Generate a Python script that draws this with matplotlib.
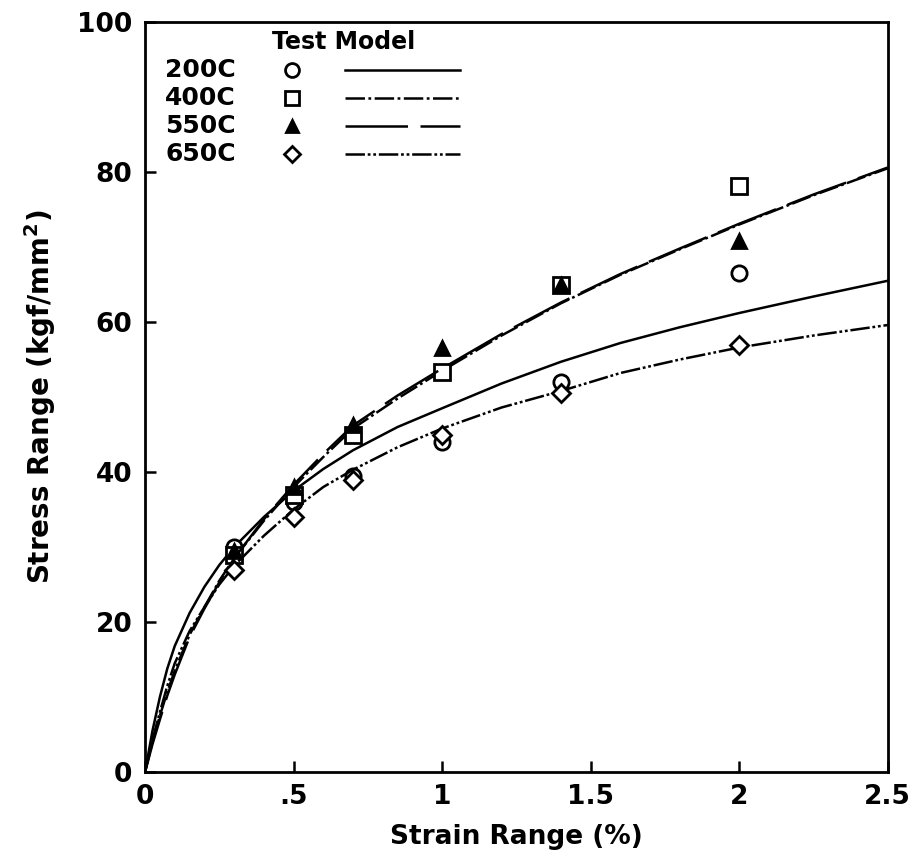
import matplotlib
matplotlib.use("Agg")
import matplotlib.pyplot as plt

plt.rcParams['font.family'] = ['DejaVu Sans']
plt.rcParams['font.weight'] = 'bold'
plt.rcParams['lines.scale_dashes'] = False

# --------------------------
# Data
# --------------------------
temps = ['200C', '400C', '550C', '650C']

# test points
x_test = [0.3, 0.5, 0.7, 1.0, 1.4, 2.0]
y_200 = [30.0, 36.0, 39.5, 44.0, 52.0, 66.5]
y_400 = [29.0, 37.0, 45.0, 53.3, 65.0, 78.2]
y_550 = [29.5, 38.0, 46.3, 56.5, 65.0, 70.8]
y_650 = [27.0, 34.0, 39.0, 45.0, 50.5, 57.0]

# model curves
x_model = [0, 0.025, 0.05, 0.075, 0.1, 0.15, 0.2, 0.25, 0.3, 0.4, 0.5, 0.6, 0.7,
           0.85, 1.0, 1.2, 1.4, 1.6, 1.8, 2.0, 2.25, 2.5]
m_200 = [0, 5.5, 10.0, 13.8, 16.8, 21.2, 24.7, 27.6, 30.0, 34.0, 37.5, 40.4, 42.9,
         46.0, 48.5, 51.8, 54.7, 57.2, 59.3, 61.2, 63.4, 65.5]
m_400 = [0, 4.0, 7.5, 10.7, 13.5, 18.3, 22.0, 25.5, 28.5, 33.5, 38.0, 42.0, 45.8,
         49.8, 53.5, 58.2, 62.5, 66.3, 69.7, 73.0, 76.9, 80.5]
m_550 = [0, 3.7, 7.0, 10.2, 13.0, 18.0, 21.8, 25.3, 28.5, 33.7, 38.3, 42.4, 46.2,
         50.2, 53.8, 58.4, 62.6, 66.4, 69.8, 73.1, 77.0, 80.6]
m_650 = [0, 4.3, 8.0, 11.5, 14.5, 18.8, 22.0, 25.0, 27.5, 31.5, 35.0, 38.0, 40.3,
         43.3, 45.8, 48.6, 50.8, 53.2, 55.0, 56.6, 58.2, 59.6]

markers = ['o', 's', '^', 'D']
marker_sizes = [11, 11, 10, 9]
marker_faces = ['white', 'white', 'black', 'white']
styles = ['-', (0, (14, 2.5, 2, 2.5)), (0, (45, 9)), (0, (14, 2, 2, 2, 2, 2))]

tests = [y_200, y_400, y_550, y_650]
models = [m_200, m_400, m_550, m_650]

# --------------------------
# Plot
# --------------------------
fig = plt.figure(figsize=(9.18, 8.68), dpi=100)
ax = fig.add_axes([0.158, 0.1106, 0.809, 0.864])

for i in range(4):
    ax.plot(x_model, models[i], color='black', lw=1.8, linestyle=styles[i])
    ax.plot(x_test, tests[i], linestyle='none', marker=markers[i],
            ms=marker_sizes[i], mfc=marker_faces[i], mec='black', mew=2)

ax.set_xlim(0, 2.5)
ax.set_ylim(0, 100)
ax.set_xticks([0, 0.5, 1, 1.5, 2, 2.5])
ax.set_xticklabels(['0', '.5', '1', '1.5', '2', '2.5'])
ax.set_yticks([0, 20, 40, 60, 80, 100])
ax.tick_params(direction='in', length=8, width=1.8, labelsize=19, pad=9)
for s in ax.spines.values():
    s.set_linewidth(2)

ax.set_xlabel('Strain Range (%)', fontsize=19, fontweight='bold', labelpad=10)
ax.set_ylabel('Stress Range (kgf/mm$^\\mathbf{2}$)', fontsize=20, fontweight='bold', labelpad=14)

# legend (label, marker, line sample)
ax.text(0.268, 0.973, 'Test Model', transform=ax.transAxes, ha='center', va='center',
        fontsize=17, fontweight='bold')
row_y = [0.936, 0.899, 0.861, 0.824]
for i in range(4):
    ax.text(0.027, row_y[i], temps[i], transform=ax.transAxes, ha='left', va='center',
            fontsize=18, fontweight='bold')
    ax.plot([0.198], [row_y[i]], transform=ax.transAxes, linestyle='none',
            marker=markers[i], ms=marker_sizes[i] - 1, mfc=marker_faces[i], mec='black', mew=2)
    ax.plot([0.269, 0.424], [row_y[i], row_y[i]], transform=ax.transAxes,
            color='black', lw=1.8, linestyle=styles[i])

fig.savefig('out.png', dpi=100)
